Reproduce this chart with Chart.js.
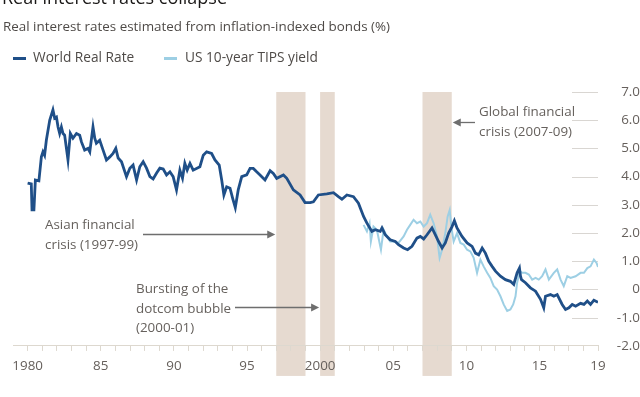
<!DOCTYPE html>
<html><head><meta charset="utf-8">
<script src="https://cdn.jsdelivr.net/npm/chart.js@4"></script>
<style>
html,body{margin:0;padding:0;background:#fff;}
#wrap{position:relative;width:640px;height:397px;overflow:hidden;font-family:"Open Sans",sans-serif;}
canvas{position:absolute;left:0;top:0;}
.t{position:absolute;white-space:nowrap;line-height:1;}
.ann{position:absolute;white-space:nowrap;font-size:13.4px;line-height:19.5px;color:#66615d;}
.sw{position:absolute;height:3px;width:13px;}
</style></head><body>
<div id="wrap">
<canvas id="c" width="640" height="397"></canvas>
<div class="t" style="left:2px;top:-12px;font-size:18px;color:#1a1817;">Real interest rates collapse</div>
<div class="t" style="left:3px;top:20px;font-size:13.4px;color:#4e4a47;">Real interest rates estimated from inflation-indexed bonds (%)</div>
<div class="sw" style="left:13px;top:57px;background:#1f4f88;"></div>
<div class="t" style="left:33px;top:50px;font-size:13.7px;color:#4e4a47;">World Real Rate</div>
<div class="sw" style="left:164px;top:57px;background:#9dcfe4;"></div>
<div class="t" style="left:185px;top:50px;font-size:13.7px;color:#4e4a47;">US 10-year TIPS yield</div>
<div class="ann" style="left:45px;top:215px;">Asian financial<br>crisis (1997-99)</div>
<div class="ann" style="left:136px;top:279px;">Bursting of the<br>dotcom bubble<br>(2000-01)</div>
<div class="ann" style="left:479px;top:102px;">Global financial<br>crisis (2007-09)</div>
</div>
<script>
// ---- data ----
const worldYears = [1980.0,1980.25,1980.3,1980.43,1980.53,1980.77,1980.94,1981.05,1981.16,1981.28,1981.51,1981.73,1981.85,1981.97,1982.08,1982.19,1982.31,1982.42,1982.53,1982.76,1982.92,1983.1,1983.34,1983.56,1983.68,1983.9,1984.13,1984.25,1984.47,1984.59,1984.7,1984.93,1985.16,1985.39,1985.62,1985.84,1986.03,1986.19,1986.42,1986.76,1986.99,1987.21,1987.45,1987.67,1987.9,1988.13,1988.36,1988.58,1988.82,1989.04,1989.27,1989.5,1989.73,1989.95,1990.18,1990.41,1990.59,1990.75,1990.91,1991.1,1991.32,1991.78,1992.01,1992.24,1992.58,1992.81,1993.1,1993.27,1993.42,1993.61,1993.84,1994.02,1994.2,1994.4,1994.64,1994.98,1995.21,1995.43,1995.66,1995.89,1996.23,1996.58,1996.8,1997.03,1997.49,1997.72,1998.17,1998.63,1998.97,1999.32,1999.54,1999.88,2000.46,2000.91,2001.25,2001.49,2001.83,2002.28,2002.62,2002.97,2003.2,2003.54,2003.77,2004.11,2004.23,2004.45,2004.79,2005.14,2005.36,2005.71,2005.98,2006.28,2006.62,2006.85,2007.08,2007.31,2007.65,2007.88,2008.1,2008.34,2008.56,2008.79,2009.02,2009.18,2009.36,2009.7,2010.05,2010.39,2010.62,2010.84,2011.08,2011.3,2011.53,2011.76,2011.99,2012.33,2012.67,2013.01,2013.24,2013.47,2013.63,2013.7,2013.77,2014.04,2014.38,2014.73,2015.07,2015.29,2015.41,2015.75,2015.98,2016.21,2016.55,2016.78,2017.01,2017.24,2017.47,2017.81,2018.04,2018.27,2018.49,2018.72,2019.0];
const worldRate = [3.77,3.74,2.82,2.82,3.88,3.85,4.7,4.88,4.76,5.29,6.0,6.37,6.07,6.11,5.76,5.53,5.76,5.53,5.47,4.59,5.53,5.36,5.53,5.47,5.23,4.94,5.0,4.88,5.76,5.36,5.18,5.29,4.94,4.59,4.7,4.82,5.0,4.66,4.53,4.0,4.3,4.41,3.88,4.35,4.53,4.3,4.0,3.92,4.13,4.3,4.27,4.06,4.17,4.0,3.53,4.23,3.94,4.47,4.23,4.47,4.23,4.35,4.76,4.88,4.82,4.59,4.41,3.88,3.35,3.64,3.59,3.23,2.9,3.53,4.0,4.06,4.29,4.29,4.17,4.06,3.88,4.21,4.11,3.94,4.06,3.94,3.53,3.35,3.08,3.08,3.11,3.35,3.39,3.43,3.29,3.2,3.35,3.29,3.06,2.59,2.35,2.06,2.12,2.06,2.18,1.94,1.76,1.7,1.59,1.47,1.41,1.53,1.82,1.88,1.79,1.94,2.18,1.94,1.7,1.47,1.65,2.0,2.23,2.44,2.18,1.88,1.65,1.53,1.29,1.23,1.47,1.29,1.0,0.82,0.65,0.47,0.35,0.29,0.18,0.59,0.76,0.47,0.35,0.24,0.06,-0.06,-0.35,-0.65,-0.24,-0.18,-0.24,-0.18,-0.53,-0.71,-0.65,-0.53,-0.59,-0.49,-0.53,-0.41,-0.53,-0.38,-0.45];
const tipsYears = [2002.97,2003.2,2003.38,2003.47,2003.65,2003.88,2004.16,2004.34,2004.57,2004.79,2005.02,2005.36,2005.71,2005.94,2006.16,2006.39,2006.62,2006.85,2007.08,2007.31,2007.53,2007.76,2007.99,2008.17,2008.34,2008.56,2008.72,2008.86,2008.97,2009.13,2009.36,2009.59,2009.82,2010.05,2010.27,2010.5,2010.73,2010.96,2011.18,2011.42,2011.64,2011.87,2012.1,2012.33,2012.55,2012.79,2013.01,2013.2,2013.36,2013.47,2013.65,2013.82,2014.04,2014.27,2014.5,2014.73,2014.95,2015.18,2015.41,2015.64,2015.98,2016.21,2016.44,2016.66,2016.9,2017.12,2017.47,2017.81,2018.04,2018.27,2018.49,2018.72,2018.9,2019.0];
const tipsYield = [2.29,2.06,2.35,1.7,2.23,2.12,1.41,2.12,1.88,1.7,1.7,1.65,1.88,2.12,2.29,2.47,2.35,2.41,2.23,2.35,2.65,2.35,1.88,1.12,1.41,2.0,2.59,2.82,2.23,1.7,2.0,1.65,1.59,1.41,1.35,1.12,0.59,1.06,0.82,0.59,0.41,0.12,0.0,-0.24,-0.53,-0.76,-0.71,-0.53,-0.24,0.24,0.65,0.59,0.59,0.53,0.35,0.41,0.35,0.47,0.71,0.35,0.59,0.71,0.35,0.12,0.47,0.41,0.47,0.59,0.59,0.76,0.82,1.06,0.94,0.8];
const crisisStart = [1997, 2000, 2007];
const crisisEnd = [1999, 2001, 2009];
const xLabelYears = [1980,1985,1990,1995,2000,2005,2010,2015,2019];
const xLabelTexts = ['1980','85','90','95','2000','05','10','15','19'];
const xMinorYears = [1980,1981,1982,1983,1984,1985,1986,1987,1988,1989,1990,1991,1992,1993,1994,1995,1996,1997,1998,1999,2000,2001,2002,2003,2004,2005,2006,2007,2008,2009,2010,2011,2012,2013,2014,2015,2016,2017,2018,2019];

const toPts = (xs, ys) => xs.map((v, i) => ({x: v, y: ys[i]}));
const GREY = '#66605c';
const AXIS = '#ddd8cf';

const decor = {
  id: 'decor',
  beforeDraw(chart) {
    const {ctx, chartArea, scales: {x, y}} = chart;
    ctx.save();
    ctx.fillStyle = '#e6dad0';
    crisisStart.forEach((s, i) => {
      const x0 = x.getPixelForValue(s), x1 = x.getPixelForValue(crisisEnd[i]);
      ctx.fillRect(x0, chartArea.top, x1 - x0, chartArea.bottom + 30 - chartArea.top);
    });
    ctx.strokeStyle = '#d9d6d2';
    ctx.lineWidth = 1;
    y.ticks.forEach(t => {
      if (t.value === y.min) return;
      const py = Math.round(y.getPixelForValue(t.value)) + 0.5;
      ctx.beginPath();
      ctx.moveTo(chartArea.right - 26, py);
      ctx.lineTo(chartArea.right, py);
      ctx.stroke();
    });
    ctx.restore();
  },
  afterDraw(chart) {
    const {ctx, scales: {x}} = chart;
    const arrow = (x0, x1, yy) => {
      ctx.save();
      ctx.strokeStyle = '#6e6e6e';
      ctx.fillStyle = '#6e6e6e';
      ctx.lineWidth = 1.3;
      const dir = Math.sign(x1 - x0);
      ctx.beginPath();
      ctx.moveTo(x0, yy);
      ctx.lineTo(x1 - dir * 6, yy);
      ctx.stroke();
      ctx.beginPath();
      ctx.moveTo(x1, yy);
      ctx.lineTo(x1 - dir * 8, yy - 4);
      ctx.lineTo(x1 - dir * 8, yy + 4);
      ctx.closePath();
      ctx.fill();
      ctx.restore();
    };
    arrow(143, x.getPixelForValue(crisisStart[0]) - 1, 234.5);
    arrow(235, x.getPixelForValue(crisisStart[1]) - 1, 307.5);
    arrow(475, x.getPixelForValue(crisisEnd[2]) + 1, 122.5);
  }
};

new Chart(document.getElementById('c'), {
  type: 'line',
  data: {
    datasets: [
      {label: 'World Real Rate', data: toPts(worldYears, worldRate), borderColor: '#1f4f88', borderWidth: 2.8, pointRadius: 0, tension: 0},
      {label: 'US 10-year TIPS yield', data: toPts(tipsYears, tipsYield), borderColor: '#9dcfe4', borderWidth: 2, pointRadius: 0, tension: 0}
    ]
  },
  options: {
    responsive: false,
    animation: false,
    events: [],
    layout: {padding: {top: 92, left: 13, right: 0, bottom: 16}},
    plugins: {legend: {display: false}, tooltip: {enabled: false}},
    scales: {
      x: {
        type: 'linear', min: 1979, max: 2019,
        afterBuildTicks: s => { s.ticks = xMinorYears.map(v => ({value: v})); },
        ticks: {
          autoSkip: false, maxRotation: 0, padding: 7, color: GREY,
          font: {family: 'Open Sans', size: 13.4},
          callback: v => { const i = xLabelYears.indexOf(v); return i >= 0 ? xLabelTexts[i] : ''; }
        },
        grid: {drawOnChartArea: false, drawTicks: true, tickLength: 5, color: AXIS},
        border: {display: true, color: AXIS}
      },
      y: {
        position: 'right', min: -2, max: 7,
        afterFit: s => { s.width = 42; },
        ticks: {
          stepSize: 1, crossAlign: 'far', padding: 8, color: GREY,
          font: {family: 'Open Sans', size: 13.4},
          callback: v => v === 0 ? '0' : v.toFixed(1)
        },
        grid: {display: false},
        border: {display: false}
      }
    }
  },
  plugins: [decor]
});
</script>
</body></html>
